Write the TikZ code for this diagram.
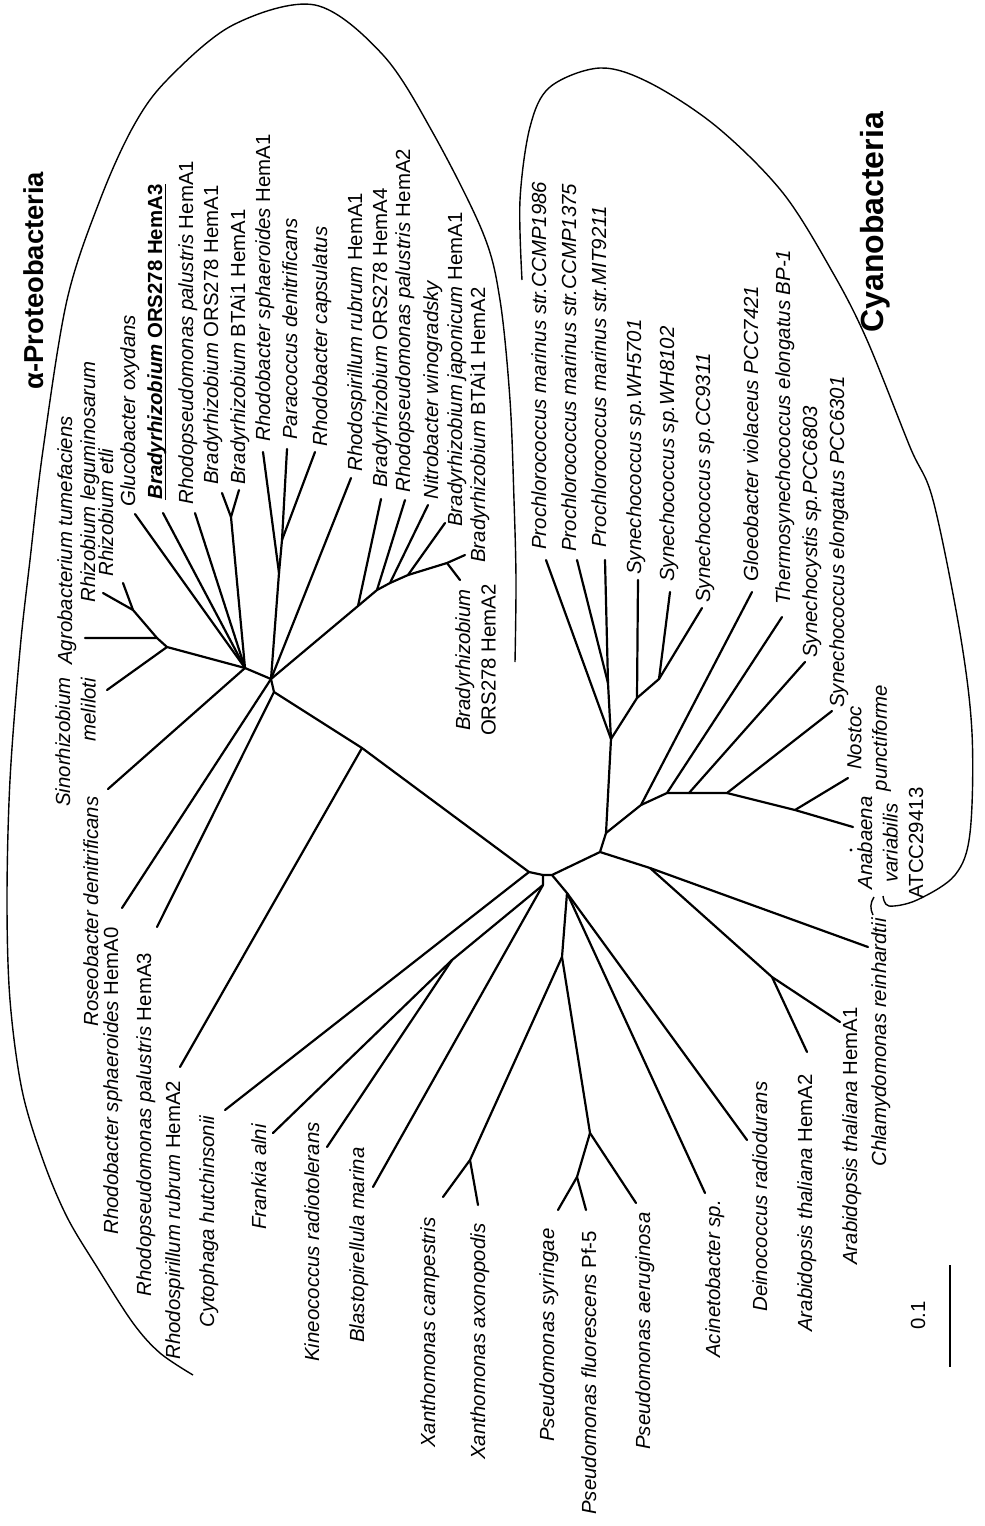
\documentclass[tikz,border=0pt]{standalone}
\usepackage{fontspec}
\setmainfont{Liberation Sans}
\usetikzlibrary{positioning}

\begin{document}
\begin{tikzpicture}[
  x=0.5pt, y=-0.5pt,
  taxon/.style={rotate=90, anchor=base west, inner sep=0pt, font=\fontsize{10.2}{12.75}\selectfont},
  taxonml/.style={rotate=90, anchor=north, inner sep=0pt, align=center, font=\fontsize{10.2}{12.75}\selectfont},
  group/.style={rotate=90, anchor=base west, inner sep=0pt},
  branch/.style={line width=1.1pt, line cap=round, line join=round},
  outline/.style={line width=0.7pt}
]
\useasboundingbox (0,0) rectangle (985,1526);

% inner nodes
\coordinate (a) at (529,872);
\coordinate (m) at (543,875);
\coordinate (b) at (552,875);
\coordinate (c) at (600,852);
\coordinate (d) at (543,885);
\coordinate (f) at (567,893);
\coordinate (e) at (562,957);
\coordinate (rb2) at (362,748);
\coordinate (p0) at (274,692);
\coordinate (p1) at (271,679);
\coordinate (q0) at (245,668);
\coordinate (q1) at (167,647);
\coordinate (q2) at (157,638);
\coordinate (q3) at (133,610);
\coordinate (bq) at (231,517);
\coordinate (r1) at (279,573);
\coordinate (r2) at (282,540);
\coordinate (t1) at (358,606);
\coordinate (t2) at (377,590);
\coordinate (t3) at (390,583);
\coordinate (t4) at (408,575);
\coordinate (t5) at (447,563);
\coordinate (fk) at (452,960);
\coordinate (x) at (470,1160);
\coordinate (ps) at (590,1133);
\coordinate (ps2) at (577,1177);
\coordinate (j) at (650,868);
\coordinate (k) at (772,977);
\coordinate (g) at (606,833);
\coordinate (h) at (611,739);
\coordinate (pn) at (608,683);
\coordinate (s1) at (637,698);
\coordinate (s2) at (659,679);
\coordinate (i) at (641,805);
\coordinate (l) at (667,793);
\coordinate (l2) at (689,793);
\coordinate (n) at (727,793);
\coordinate (na) at (795,810);

% tips
\coordinate (agrot) at (85,638);
\coordinate (rlegt) at (103,593);
\coordinate (retlit) at (123,583);
\coordinate (sinot) at (107,690);
\coordinate (glucot) at (135,514);
\coordinate (bradyA3t) at (163,513);
\coordinate (rpalA1t) at (195,513);
\coordinate (bradyA1t) at (222,493);
\coordinate (btaiA1t) at (239,490);
\coordinate (rsphA1t) at (263,452);
\coordinate (parat) at (287,449);
\coordinate (rcapst) at (315,452);
\coordinate (rrubA1t) at (351,478);
\coordinate (bradyA4t) at (381,499);
\coordinate (rpalA2t) at (405,500);
\coordinate (nitrot) at (428,505);
\coordinate (bjapt) at (445,523);
\coordinate (btaiA2t) at (465,555);
\coordinate (bradyA2t) at (460,580);
\coordinate (roseot) at (108,789);
\coordinate (rsphA0t) at (122,908);
\coordinate (rpalA3t) at (157,927);
\coordinate (rrubA2t) at (180,1067);
\coordinate (cytot) at (225,1110);
\coordinate (frankiat) at (273,1133);
\coordinate (kineot) at (327,1147);
\coordinate (blastot) at (373,1187);
\coordinate (xcampt) at (443,1197);
\coordinate (xaxot) at (478,1205);
\coordinate (psyrt) at (558,1210);
\coordinate (pflut) at (586,1210);
\coordinate (paert) at (636,1203);
\coordinate (acint) at (705,1193);
\coordinate (deinot) at (747,1140);
\coordinate (athA2t) at (807,1052);
\coordinate (athA1t) at (840,1022);
\coordinate (chlamyt) at (868,947);
\coordinate (pro1986t) at (546,560);
\coordinate (pro1375t) at (577,560);
\coordinate (promitt) at (605,560);
\coordinate (wh5701t) at (638,580);
\coordinate (wh8102t) at (670,592);
\coordinate (cc9311t) at (702,608);
\coordinate (gloeot) at (752,592);
\coordinate (thermot) at (782,617);
\coordinate (pcc6803t) at (805,662);
\coordinate (pcc6301t) at (832,711);
\coordinate (nostoct) at (848,778);
\coordinate (anabt) at (853,827);

% labels
\node[taxon] (agro) at (72,665) {\textit{Agrobacterium tumefaciens}};
\node[taxon] (rleg) at (95,603) {\textit{Rhizobium leguminosarum}};
\node[taxon] (retli) at (113,577) {\textit{Rhizobium etli}};
\node[taxonml, anchor=north east, align=right] (sino) at (55,677) {\textit{Sinorhizobium}\\\textit{meliloti}};
\node[taxon] (gluco) at (135,507) {\textit{Glucobacter oxydans}};
\node[taxon] (bradyA3) at (162,500) {\bfseries\textit{Bradyrhizobium} ORS278 HemA3};
\node[taxon] (rpalA1) at (193,505) {\textit{Rhodopseudomonas palustris} HemA1};
\node[taxon] (bradyA1) at (218,485) {\textit{Bradyrhizobium} ORS278 HemA1};
\node[taxon] (btaiA1) at (245,485) {\textit{Bradyrhizobium} BTAi1 HemA1};
\node[taxon] (rsphA1) at (270,442) {\textit{Rhodobacter sphaeroides} HemA1};
\node[taxon] (para) at (297,440) {\textit{Paracoccus denitrificans}};
\node[taxon] (rcaps) at (327,447) {\textit{Rhodobacter capsulatus}};
\node[taxon] (rrubA1) at (362,472) {\textit{Rhodospirillum rubrum} HemA1};
\node[taxon] (bradyA4) at (387,488) {\textit{Bradyrhizobium} ORS278 HemA4};
\node[taxon] (rpalA2) at (410,493) {\textit{Rhodopseudomonas palustris} HemA2};
\node[taxon] (nitro) at (438,500) {\textit{Nitrobacter winogradsky}};
\node[taxon] (bjap) at (462,527) {\textit{Bradyrhizobium japonicum} HemA1};
\node[taxon] (btaiA2) at (485,563) {\textit{Bradyrhizobium} BTAi1 HemA2};
\node[taxonml] (bradyA2) at (455,660) {\textit{Bradyrhizobium}\\ORS278 HemA2};
\node[taxon] (roseo) at (98,1027) {\textit{Roseobacter denitrificans}};
\node[taxon] (rsphA0) at (118,1235) {\textit{Rhodobacter sphaeroides} HemA0};
\node[taxon] (rpalA3) at (151,1297) {\textit{Rhodopseudomonas palustris} HemA3};
\node[taxon] (rrubA2) at (180,1360) {\textit{Rhodospirillum rubrum} HemA2};
\node[taxon] (cyto) at (214,1328) {\textit{Cytophaga hutchinsonii}};
\node[taxon] (frankia) at (266,1230) {\textit{Frankia alni}};
\node[taxon] (kineo) at (319,1362) {\textit{Kineococcus radiotolerans}};
\node[taxon] (blasto) at (364,1343) {\textit{Blastopirellula marina}};
\node[taxon] (xcamp) at (435,1448) {\textit{Xanthomonas campestris}};
\node[taxon] (xaxo) at (485,1460) {\textit{Xanthomonas axonopodis}};
\node[taxon] (psyr) at (554,1442) {\textit{Pseudomonas syringae}};
\node[taxon] (pflu) at (596,1515) {\textit{Pseudomonas fluorescens} Pf-5};
\node[taxon] (paer) at (650,1450) {\textit{Pseudomonas aeruginosa}};
\node[taxon] (acin) at (720,1358) {\textit{Acinetobacter sp.}};
\node[taxon] (deino) at (767,1312) {\textit{Deinococcus radiodurans}};
\node[taxon] (athA2) at (812,1332) {\textit{Arabidopsis thaliana} HemA2};
\node[taxon] (athA1) at (857,1265) {\textit{Arabidopsis thaliana} HemA1};
\node[taxon] (chlamy) at (886,1167) {\textit{Chlamydomonas reinhardtii}};
\node[taxon] (pro1986) at (546,550) {\textit{Prochlorococcus marinus str.CCMP1986}};
\node[taxon] (pro1375) at (576,552) {\textit{Prochlorococcus marinus str.CCMP1375}};
\node[taxon] (promit) at (606,548) {\textit{Prochlorococcus marinus str.MIT9211}};
\node[taxon] (wh5701) at (641,575) {\textit{Synechococcus sp.WH5701}};
\node[taxon] (wh8102) at (674,582) {\textit{Synechococcus sp.WH8102}};
\node[taxon] (cc9311) at (710,603) {\textit{Synechococcus sp.CC9311}};
\node[taxon] (gloeo) at (758,582) {\textit{Gloeobacter violaceus PCC7421}};
\node[taxon] (thermo) at (790,605) {\textit{Thermosynechococcus elongatus BP-1}};
\node[taxon] (pcc6803) at (817,658) {\textit{Synechocystis sp.PCC6803}};
\node[taxon] (pcc6301) at (844,708) {\textit{Synechococcus elongatus PCC6301}};
\node[taxonml] (nostoc) at (847,738) {\textit{Nostoc}\\\textit{punctiforme}};
\node[taxonml] (anab) at (857,843) {\textit{Anabaena}\\\textit{variabilis}\\ATCC29413};

\node[group, font=\bfseries\fontsize{13.7}{16}\selectfont] (alpha) at (43,390) {α-Proteobacteria};
\node[group, font=\bfseries\fontsize{16}{19}\selectfont] (cyano) at (883,333) {Cyanobacteria};

% underline of the highlighted gene
\draw[line width=0.6pt] ([xshift=1.8pt]bradyA3.base west) -- ([xshift=1.8pt]bradyA3.base east);

% branches
\draw[branch] (a) -- (rb2) -- (p0) -- (p1) -- (q0);
\draw[branch] (rb2) -- (rrubA2t);
\draw[branch] (p0) -- (rpalA3t);
\draw[branch] (p1) -- (rsphA0t);
\draw[branch] (q0) -- (roseot);
\draw[branch] (q0) -- (q1) -- (q2) -- (agrot);
\draw[branch] (q1) -- (sinot);
\draw[branch] (q2) -- (q3) -- (rlegt);
\draw[branch] (q3) -- (retlit);
\draw[branch] (q0) -- (glucot);
\draw[branch] (q0) -- (bradyA3t);
\draw[branch] (q0) -- (rpalA1t);
\draw[branch] (q0) -- (bq) -- (bradyA1t);
\draw[branch] (bq) -- (btaiA1t);
\draw[branch] (p1) -- (r1) -- (rsphA1t);
\draw[branch] (r1) -- (r2) -- (parat);
\draw[branch] (r2) -- (rcapst);
\draw[branch] (p1) -- (rrubA1t);
\draw[branch] (p1) -- (t1) -- (bradyA4t);
\draw[branch] (t1) -- (t2) -- (rpalA2t);
\draw[branch] (t2) -- (t3) -- (nitrot);
\draw[branch] (t3) -- (t4) -- (bjapt);
\draw[branch] (t4) -- (t5) -- (btaiA2t);
\draw[branch] (t5) -- (bradyA2t);
\draw[branch] (a) -- (m) -- (b) -- (c);
\draw[branch] (a) -- (cytot);
\draw[branch] (m) -- (d) -- (fk) -- (frankiat);
\draw[branch] (fk) -- (kineot);
\draw[branch] (d) -- (blastot);
\draw[branch] (b) -- (f) -- (e) -- (x) -- (xcampt);
\draw[branch] (x) -- (xaxot);
\draw[branch] (e) -- (ps) -- (paert);
\draw[branch] (ps) -- (ps2) -- (psyrt);
\draw[branch] (ps2) -- (pflut);
\draw[branch] (f) -- (acint);
\draw[branch] (f) -- (deinot);
\draw[branch] (c) -- (j) -- (chlamyt);
\draw[branch] (j) -- (k) -- (athA1t);
\draw[branch] (k) -- (athA2t);
\draw[branch] (c) -- (g) -- (h) -- (pro1986t);
\draw[branch] (h) -- (pn) -- (pro1375t);
\draw[branch] (pn) -- (promitt);
\draw[branch] (h) -- (s1) -- (wh5701t);
\draw[branch] (s1) -- (s2) -- (wh8102t);
\draw[branch] (s2) -- (cc9311t);
\draw[branch] (g) -- (i) -- (gloeot);
\draw[branch] (i) -- (l) -- (thermot);
\draw[branch] (l) -- (l2) -- (pcc6803t);
\draw[branch] (l2) -- (n) -- (pcc6301t);
\draw[branch] (n) -- (na) -- (anabt);
\draw[branch] (na) -- (nostoct);

% clade outlines
\draw[outline] plot[smooth, tension=0.55] coordinates {(193,1375) (160,1353) (133,1323) (97,1267) (67,1217) (43,1160) (22,1090) (10,1000) (7,900) (10,780) (20,650) (30,560) (43,450) (67,300) (100,200) (133,127) (167,80) (233,25) (315,5) (383,55) (433,133) (483,233) (500,300) (510,400) (514,500) (516,580) (515,662)};
\draw[outline] plot[smooth, tension=0.55] coordinates {(522,280) (520,200) (530,127) (550,87) (600,68) (650,83) (717,127) (783,193) (833,273) (867,340) (910,447) (933,500) (960,633) (972,733) (970,833) (955,875) (917,900) (889,906) (883,896)};
\draw[outline] (874,897) .. controls (870,903) and (870,909) .. (873,915);
\fill (851,850) circle (0.8pt);

% scale bar
\coordinate (sb1) at (950,1265);
\coordinate (sb2) at (950,1367);
\draw[line width=1.1pt] (sb1) -- (sb2);
\node[taxon] (scale) at (925,1330) {0.1};
\end{tikzpicture}
\end{document}
